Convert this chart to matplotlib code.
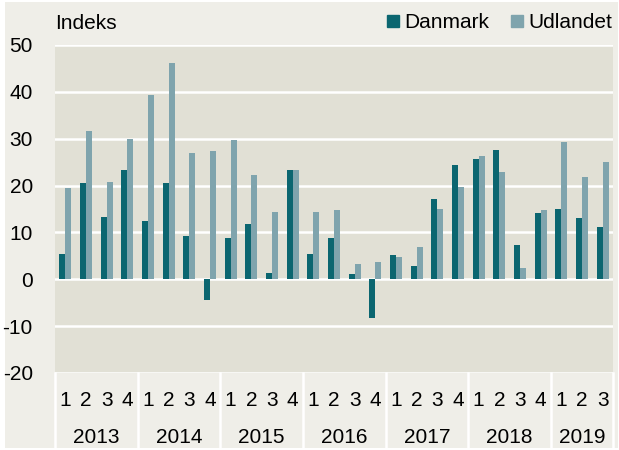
import numpy as np
import matplotlib.pyplot as plt
from matplotlib.patches import Rectangle
from matplotlib.lines import Line2D
import matplotlib.transforms as mtransforms

plt.rcParams['font.family'] = ['Liberation Sans', 'DejaVu Sans']

# data: kvartaler 2013K1 - 2019K3
years = ['2013', '2014', '2015', '2016', '2017', '2018', '2019']
quarters = ['1', '2', '3', '4'] * 6 + ['1', '2', '3']
danmark = [5.5, 20.5, 13.3, 23.3,
           12.5, 20.5, 9.3, -4.5,
           8.8, 11.7, 1.4, 23.4,
           5.4, 8.9, 1.2, -8.2,
           5.1, 2.8, 17.2, 24.3,
           25.6, 27.6, 7.3, 14.1,
           15.1, 13.1, 11.1]
udlandet = [19.5, 31.7, 20.7, 29.9,
            39.3, 46.1, 26.9, 27.3,
            29.8, 22.2, 14.4, 23.4,
            14.3, 14.8, 3.3, 3.7,
            4.8, 6.9, 14.9, 19.7,
            26.4, 23.0, 2.5, 14.8,
            29.2, 21.9, 25.0]

c_dk = '#0b6670'
c_ud = '#7fa4ad'
bg = '#efeee8'
plot_bg = '#e1e0d5'
fs = 15

fig = plt.figure(figsize=(6.19, 4.5), dpi=100, facecolor='white')
fig.patches.append(Rectangle((5 / 619, 2 / 450), 613 / 619, 446 / 450,
                             transform=fig.transFigure, facecolor=bg,
                             edgecolor='none', zorder=-10))

ax = fig.add_axes([55 / 619, 77 / 450, 558 / 619, 328 / 450])
ax.set_facecolor(plot_bg)

x = np.arange(len(danmark))
w = 0.29
ax.bar(x - w / 2, danmark, w, color=c_dk, zorder=3)
ax.bar(x + w / 2, udlandet, w, color=c_ud, zorder=3)

ax.set_xlim(-0.5, len(danmark) - 0.5)
ax.set_ylim(-20, 50)
ax.set_yticks(np.arange(-20, 51, 10))
ax.set_yticklabels([str(v) for v in range(-20, 51, 10)], fontsize=fs)
ax.tick_params(axis='y', length=0, pad=16)
ax.set_xticks([])
ax.grid(axis='y', color='white', linewidth=1.8, zorder=1)
ax.set_axisbelow(True)
for s in ax.spines.values():
    s.set_visible(False)

# x-axis labels: quarter row and year row
trans = mtransforms.blended_transform_factory(ax.transData, ax.transAxes)
for i, q in enumerate(quarters):
    ax.text(i, -0.085, q, transform=trans, ha='center', va='center', fontsize=fs)
for k, yr in enumerate(years):
    n = min(4, len(quarters) - 4 * k)
    ax.text(4 * k + (n - 1) / 2, -0.196, yr, transform=trans, ha='center',
            va='center', fontsize=fs)
for k in range(8):
    xb = min(4 * k, len(quarters)) - 0.5
    ax.add_line(Line2D([xb, xb], [0, -0.235], transform=trans, color='white',
                       linewidth=1.8, clip_on=False))

ax.text(0, 1.065, 'Indeks', transform=ax.transAxes, ha='left', va='center',
        fontsize=fs)

handles = [Line2D([], [], marker='s', linestyle='none', color=c_dk, markersize=8),
           Line2D([], [], marker='s', linestyle='none', color=c_ud, markersize=8)]
fig.legend(handles, ['Danmark', 'Udlandet'], loc='center right',
           bbox_to_anchor=(612 / 619, 1 - 23 / 450), ncol=2, frameon=False,
           fontsize=fs, handlelength=0.6, handletextpad=0.25, columnspacing=1.0,
           borderpad=0, borderaxespad=0)

fig.savefig('out.png', dpi=100, facecolor='white')
